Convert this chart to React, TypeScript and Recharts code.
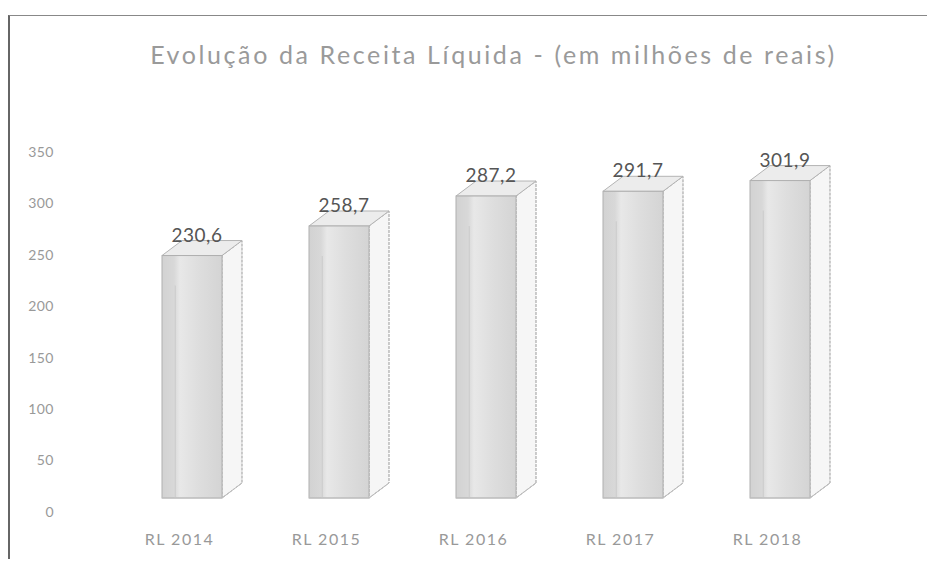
import { Bar, BarChart, LabelList, XAxis, YAxis } from 'recharts';

const categories = ['RL 2014', 'RL 2015', 'RL 2016', 'RL 2017', 'RL 2018'];
const receita = [230.6, 258.7, 287.2, 291.7, 301.9];
const yTicks = [0, 50, 100, 150, 200, 250, 300, 350];

const data = categories.map((name, i) => ({ name, receita: receita[i] }));

const FONT = 'Lato, "Open Sans", sans-serif';
const DEPTH_X = 20;
const DEPTH_Y = -15;
const SHIFT = 12;

function Box3D(props: any): React.ReactElement {
  const { x, y, width, height } = props;
  const fx = x + SHIFT;
  const bottom = y + height;
  const top = `${fx},${y} ${fx + DEPTH_X},${y + DEPTH_Y} ${fx + width + DEPTH_X},${y + DEPTH_Y} ${fx + width},${y}`;
  const side = `${fx + width},${y} ${fx + width + DEPTH_X},${y + DEPTH_Y} ${fx + width + DEPTH_X},${bottom + DEPTH_Y} ${fx + width},${bottom}`;
  const base = `${fx},${bottom} ${fx + width},${bottom} ${fx + width + DEPTH_X},${bottom + DEPTH_Y}`;
  return (
    <g>
      <polygon points={side} fill="#f6f6f6" stroke="#9a9a9a" strokeWidth={1} strokeDasharray="3 1" />
      <polygon points={top} fill="#ececec" stroke="#b4b4b4" strokeWidth={1} />
      <rect x={fx} y={y} width={width} height={height} fill="url(#glass)" stroke="#b0b0b0" strokeWidth={1} />
      <line x1={fx + width * 0.22} y1={y + 30} x2={fx + width * 0.22} y2={bottom} stroke="#cacaca" />
      <polyline points={base} fill="none" stroke="#c0c0c0" />
    </g>
  );
}

function ValueLabel(props: any): React.ReactElement {
  const { x, y, width, value } = props;
  return (
    <text
      x={x + SHIFT + width / 2 + 5}
      y={y - 14}
      textAnchor="middle"
      fill="#555"
      fontSize={19}
      letterSpacing={0.5}
      fontFamily={FONT}
    >
      {Number(value).toFixed(1).replace('.', ',')}
    </text>
  );
}

function YTick(props: any): React.ReactElement {
  const { x, y, payload } = props;
  return (
    <text
      x={x}
      y={y + 14 + payload.value * 0.023}
      dy="0.35em"
      textAnchor="end"
      fill="#999"
      fontSize={14}
      letterSpacing={0.5}
      fontFamily={FONT}
    >
      {payload.value}
    </text>
  );
}

export default function App(): React.ReactElement {
  return (
    <div style={{ position: 'relative', width: 927, height: 551, background: '#fff', overflow: 'hidden' }}>
      <div
        style={{
          position: 'absolute',
          left: 0,
          top: 7,
          width: 927,
          height: 546,
          borderLeft: '2px solid #666',
          borderTop: '1px solid #888',
        }}
      />
      <div
        style={{
          position: 'absolute',
          left: 22,
          top: 31,
          width: 927,
          textAlign: 'center',
          fontFamily: FONT,
          fontSize: 25,
          letterSpacing: 2.6,
          color: '#9a9a9a',
        }}
      >
        Evolução da Receita Líquida - (em milhões de reais)
      </div>
      <BarChart
        width={927}
        height={551}
        data={data}
        margin={{ top: 122, right: 60, bottom: 1, left: 0 }}
        style={{ position: 'absolute', left: 0, top: 0 }}
      >
        <defs>
          <linearGradient id="glass" x1="0" y1="0" x2="1" y2="0">
            <stop offset="0%" stopColor="#d2d2d2" />
            <stop offset="20%" stopColor="#d8d8d8" />
            <stop offset="30%" stopColor="#e8e8e8" />
            <stop offset="60%" stopColor="#dedede" />
            <stop offset="100%" stopColor="#d4d4d4" />
          </linearGradient>
        </defs>
        <XAxis
          dataKey="name"
          axisLine={false}
          tickLine={false}
          height={60}
          tickMargin={30}
          padding={{ left: 44, right: 34 }}
          tick={{ fill: '#999', fontSize: 16, fontFamily: FONT, letterSpacing: 1.5 }}
        />
        <YAxis
          domain={[0, 350]}
          ticks={yTicks}
          width={54}
          axisLine={false}
          tickLine={false}
          tick={<YTick />}
        />
        <Bar
          dataKey="receita"
          barSize={60}
          shape={<Box3D />}
          isAnimationActive={false}
        >
          <LabelList dataKey="receita" content={<ValueLabel />} />
        </Bar>
      </BarChart>
    </div>
  );
}
